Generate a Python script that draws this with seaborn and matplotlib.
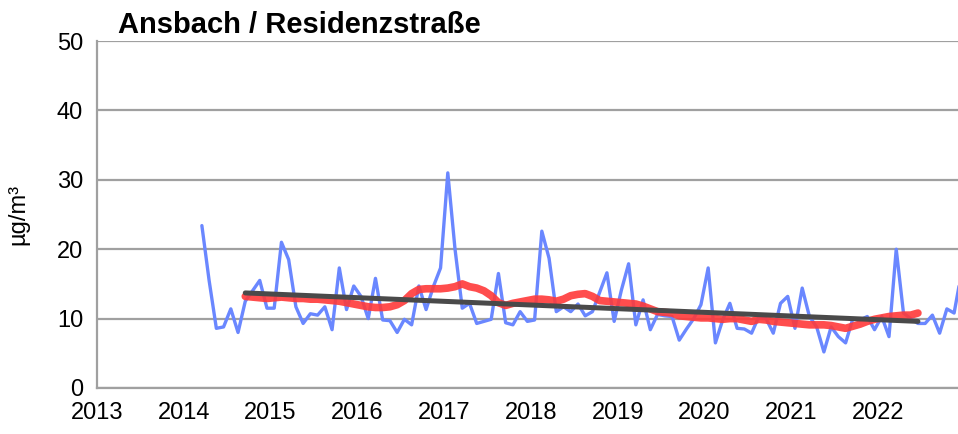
import numpy as np
import pandas as pd
import matplotlib
matplotlib.use("Agg")
import matplotlib.pyplot as plt
import seaborn as sns

# =========================
# Daten
# =========================
# Monatsmittelwerte ab Maerz 2014, in µg/m³
monatswerte = [
    # 2014 (Mar-Dec)
    23.4, 15.5, 8.6, 8.8, 11.4, 8.0, 12.5, 14.0, 15.5, 11.5,
    # 2015
    11.5, 21.0, 18.5, 11.7, 9.3, 10.7, 10.5, 11.7, 8.4, 17.3, 11.3, 14.7,
    # 2016
    13.2, 10.0, 15.8, 9.8, 9.7, 8.0, 9.9, 9.1, 14.7, 11.3, 14.6, 17.3,
    # 2017
    31.0, 20.0, 11.5, 12.2, 9.3, 9.6, 9.9, 16.5, 9.4, 9.1, 11.0, 9.6,
    # 2018
    9.8, 22.6, 18.7, 11.0, 11.7, 11.0, 12.1, 10.4, 11.0, 13.8, 16.6, 9.6,
    # 2019
    14.1, 17.9, 9.1, 12.7, 8.4, 10.6, 10.4, 10.3, 6.9, 8.5, 10.0, 12.0,
    # 2020
    17.3, 6.5, 9.8, 12.2, 8.6, 8.5, 7.9, 10.3, 10.0, 7.9, 12.2, 13.2,
    # 2021
    8.6, 14.4, 10.3, 8.8, 5.2, 8.8, 7.4, 6.5, 10.0, 9.8, 10.3, 8.4,
    # 2022
    10.3, 7.4, 20.0, 10.8, 10.0, 9.3, 9.3, 10.5, 7.9, 11.4, 10.8, 16.5,
]
monatswerte_start = "2014-03"

# gleitender 12-Monats-Mittelwert ab September 2014
gleitendes_mittel = [
    13.2, 13.1, 13.0, 12.9,
    13.0, 13.1, 13.0, 12.9, 12.9, 12.8, 12.8, 12.7, 12.6, 12.5, 12.3, 12.1,
    11.9, 11.7, 11.6, 11.6, 11.7, 12.0, 12.6, 13.6, 14.2, 14.3, 14.3, 14.3,
    14.4, 14.6, 15.0, 14.6, 14.4, 14.0, 13.3, 12.3, 11.9, 12.2, 12.4, 12.6,
    12.8, 12.8, 12.7, 12.5, 12.8, 13.3, 13.5, 13.6, 13.2, 12.6, 12.5, 12.4,
    12.3, 12.2, 12.1, 11.8, 11.4, 11.0, 10.9, 10.8, 10.4, 10.3, 10.2, 10.1,
    10.1, 10.0, 9.9, 10.0, 10.0, 9.8, 9.6, 9.9, 9.8, 9.6, 9.5, 9.4,
    9.3, 9.2, 9.1, 9.1, 9.1, 9.0, 8.8, 8.6, 8.9, 9.2, 9.6, 9.9,
    10.1, 10.3, 10.4, 10.5, 10.5, 10.8,
]
mittel_start = "2014-09"

# linearer Trend (Anfang / Ende)
trend_datum = ["2014-09", "2022-06"]
trend_werte = [13.7, 9.6]

titel = "Ansbach / Residenzstraße"
x_ticks = list(range(2013, 2023))
y_ticks = [0, 10, 20, 30, 40, 50]


def dezimaljahr(daten):
    d = pd.DatetimeIndex(daten)
    return d.year + (d.month - 0.5) / 12


df_monat = pd.DataFrame({
    "jahr": dezimaljahr(pd.date_range(monatswerte_start, periods=len(monatswerte), freq="MS")),
    "wert": monatswerte,
})
df_mittel = pd.DataFrame({
    "jahr": dezimaljahr(pd.date_range(mittel_start, periods=len(gleitendes_mittel), freq="MS")),
    "wert": gleitendes_mittel,
})
df_trend = pd.DataFrame({"jahr": dezimaljahr(trend_datum), "wert": trend_werte})

# =========================
# Grafik
# =========================
sns.set_style("white")
plt.rcParams["font.family"] = ["Liberation Sans", "DejaVu Sans"]
plt.rcParams["text.color"] = "black"

grau = "#a0a0a0"

fig = plt.figure(figsize=(9.58, 4.34), dpi=100)
ax = fig.add_axes([97 / 958, 1 - 388 / 434, 1 - 97 / 958, (388 - 41) / 434])

sns.lineplot(data=df_monat, x="jahr", y="wert", ax=ax, color="#6a87ff",
             linewidth=2.4, zorder=3)
sns.lineplot(data=df_mittel, x="jahr", y="wert", ax=ax, color="#ff3a3a",
             alpha=0.9, linewidth=5.5, zorder=4, solid_capstyle="round")
sns.lineplot(data=df_trend, x="jahr", y="wert", ax=ax, color="#4a4a4a",
             linewidth=3.6, zorder=5)

ax.set_xlim(2013, 2022.92)
ax.set_ylim(0, 50)
ax.set_xticks(x_ticks)
ax.set_yticks(y_ticks)
ax.yaxis.grid(True, color=grau, linewidth=1.6)
ax.set_axisbelow(True)

for s in ["top", "right"]:
    ax.spines[s].set_visible(False)
for s in ["left", "bottom"]:
    ax.spines[s].set_color(grau)
    ax.spines[s].set_linewidth(1.6)

ax.tick_params(axis="both", direction="out", colors=grau, width=1.6,
               labelcolor="black", labelsize=17)
ax.tick_params(axis="x", length=6, pad=4)
ax.tick_params(axis="y", length=5, pad=5)

ax.set_xlabel("")
ax.set_ylabel("µg/m³", fontsize=17, labelpad=20, color="black")

fig.text(118 / 958, 1 - 25 / 434, titel, fontsize=21, fontweight="bold",
         va="center", ha="left", color="black")

plt.savefig("out.png", dpi=100)
